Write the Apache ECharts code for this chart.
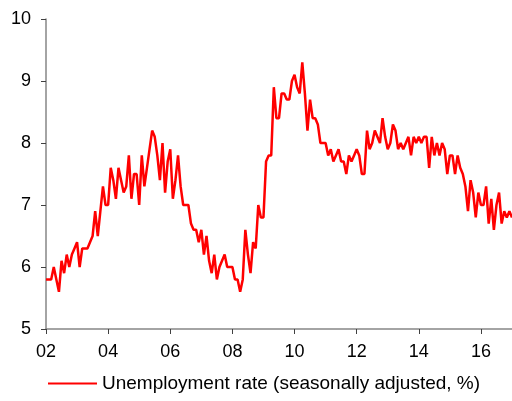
<!DOCTYPE html>
<html>
<head>
<meta charset="utf-8">
<script src="https://cdn.jsdelivr.net/npm/echarts@6/dist/echarts.min.js"></script>
<style>
    html, body { margin: 0; padding: 0; background: #fff; }
    #chart { width: 512px; height: 401px; }
</style>
</head>
<body>
<div id="chart"></div>
<script>
// monthly, Jan 2002 .. Jan 2017
const startYear = 2002;
const rate = [
    5.8, 5.8, 5.8, 6.0, 5.8, 5.6, 6.1, 5.9, 6.2, 6.0, 6.2, 6.3,   // 2002
    6.4, 6.0, 6.3, 6.3, 6.3, 6.4, 6.5, 6.9, 6.5, 6.9, 7.3, 7.0,   // 2003
    7.0, 7.6, 7.4, 7.1, 7.6, 7.4, 7.2, 7.3, 7.8, 7.1, 7.5, 7.5,   // 2004
    7.0, 7.8, 7.3, 7.6, 7.9, 8.2, 8.1, 7.8, 7.4, 8.0, 7.2, 7.7,   // 2005
    7.9, 7.1, 7.4, 7.8, 7.3, 7.0, 7.0, 7.0, 6.7, 6.6, 6.6, 6.4,   // 2006
    6.6, 6.2, 6.5, 6.1, 5.9, 6.2, 5.8, 6.0, 6.1, 6.2, 6.0, 6.0,   // 2007
    6.0, 5.8, 5.8, 5.6, 5.8, 6.6, 6.2, 5.9, 6.4, 6.3, 7.0, 6.8,   // 2008
    6.8, 7.7, 7.8, 7.8, 8.9, 8.4, 8.4, 8.8, 8.8, 8.7, 8.7, 9.0,   // 2009
    9.1, 8.9, 8.8, 9.3, 8.8, 8.2, 8.7, 8.4, 8.4, 8.3, 8.0, 8.0,   // 2010
    8.0, 7.8, 7.9, 7.7, 7.8, 7.9, 7.7, 7.7, 7.5, 7.8, 7.7, 7.8,   // 2011
    7.9, 7.8, 7.5, 7.5, 8.2, 7.9, 8.0, 8.2, 8.1, 8.0, 8.4, 8.1,   // 2012
    7.9, 8.0, 8.3, 8.2, 7.9, 8.0, 7.9, 8.0, 8.1, 7.8, 8.1, 8.0,   // 2013
    8.1, 8.0, 8.1, 8.1, 7.6, 8.1, 7.8, 8.0, 7.8, 8.0, 7.9, 7.5,   // 2014
    7.8, 7.8, 7.5, 7.8, 7.6, 7.5, 7.3, 6.9, 7.4, 7.2, 6.8, 7.2,   // 2015
    7.0, 7.0, 7.3, 6.7, 7.1, 6.6, 7.0, 7.2, 6.7, 6.9, 6.8, 6.9,   // 2016
    6.8                                                            // 2017
];
const seriesName = 'Unemployment rate (seasonally adjusted, %)';

// category labels: 2002-01, 2002-02, ...
const months = rate.map((v, i) => {
    const y = startYear + Math.floor(i / 12);
    const m = i % 12 + 1;
    return y + '-' + (m < 10 ? '0' + m : m);
});

const fontFamily = 'Arial, "Liberation Sans", sans-serif';
const everyTwoYears = (idx) => idx % 24 === 0;

let chart = echarts.init(document.getElementById('chart'), null, {renderer: 'canvas'});
chart.setOption({
    animation: false,
    backgroundColor: '#fff',
    grid: {
        left: 46,
        right: 0,
        top: 19,
        bottom: 72
    },
    legend: {
        data: [seriesName],
        bottom: 8,
        left: 48,
        padding: 0,
        icon: 'rect',
        itemWidth: 49,
        itemHeight: 2,
        itemGap: 5,
        textStyle: {
            fontFamily: fontFamily,
            fontSize: 19,
            color: '#000'
        }
    },
    xAxis: {
        type: 'category',
        data: months,
        boundaryGap: false,
        axisLine: {lineStyle: {color: '#868686', width: 1.5}},
        axisTick: {
            interval: everyTwoYears,
            length: 5,
            lineStyle: {color: '#404040'}
        },
        axisLabel: {
            interval: everyTwoYears,
            margin: 14,
            fontFamily: fontFamily,
            fontSize: 18,
            color: '#000',
            formatter: (val) => val.slice(2, 4)
        },
        splitLine: {show: false}
    },
    yAxis: {
        type: 'value',
        min: 5,
        max: 10,
        interval: 1,
        axisLine: {show: true, lineStyle: {color: '#868686', width: 1.5}},
        axisTick: {show: true, length: 5, lineStyle: {color: '#404040'}},
        axisLabel: {
            margin: 15,
            fontFamily: fontFamily,
            fontSize: 18,
            color: '#000'
        },
        splitLine: {show: false}
    },
    series: [
        {
            name: seriesName,
            type: 'line',
            data: rate,
            showSymbol: false,
            lineStyle: {color: '#ff0000', width: 2.5},
            itemStyle: {color: '#ff0000'}
        }
    ]
});
</script>
</body>
</html>
